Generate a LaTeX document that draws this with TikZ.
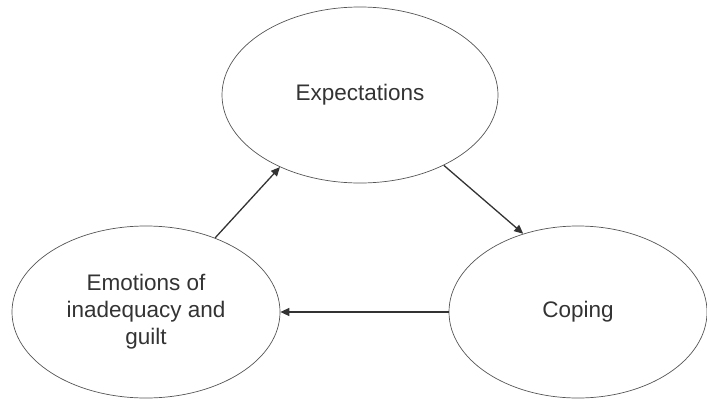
\documentclass[tikz,border=0pt]{standalone}
\usepackage{fontspec}
\setmainfont{Liberation Sans}
\usetikzlibrary{arrows.meta,shapes.geometric}
\definecolor{txt}{HTML}{333333}
\definecolor{edge}{HTML}{555555}
\tikzset{
  oval/.style={ellipse, draw=edge, line width=0.7pt, inner sep=0pt, text=txt,
    font=\fontsize{22.5}{27}\selectfont, align=center},
  conn/.style={draw=txt, line width=1.3pt, -{Triangle[length=9pt,width=8pt]}}
}
\begin{document}
\begin{tikzpicture}[x=1pt,y=-1pt]
\useasboundingbox (0,0) rectangle (707,399);
\node[oval, minimum width=276pt, minimum height=176pt] (exp) at (360,95) {Expectations};
\node[oval, minimum width=268pt, minimum height=172pt] (emo) at (146,312) {Emotions of\\inadequacy and\\guilt};
\node[oval, minimum width=258pt, minimum height=172pt] (cop) at (578,312) {Coping};
\draw[conn] (emo.47) -- (exp.222);
\draw[conn] (exp.-40) -- (cop.125);
\draw[conn] (cop.west) -- (emo.east);
\end{tikzpicture}
\end{document}
